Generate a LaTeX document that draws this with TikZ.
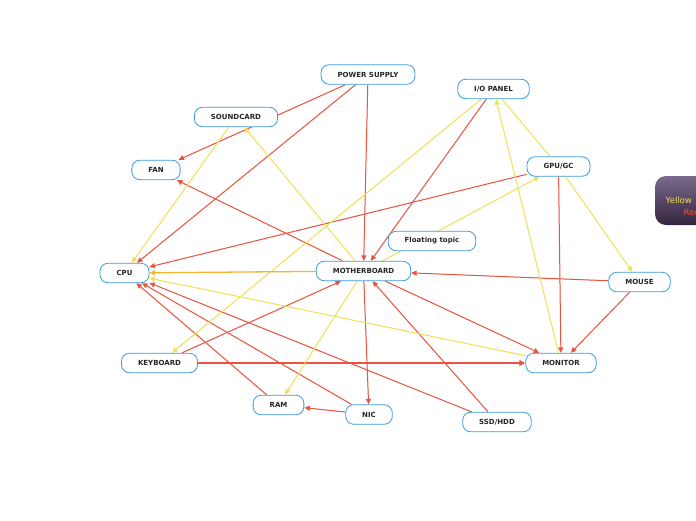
\documentclass[tikz,border=0pt]{standalone}
\usepackage{fontspec}
\setmainfont{DejaVu Sans}
\usetikzlibrary{arrows.meta,backgrounds}
\definecolor{topicblue}{HTML}{3A9BDC}
\definecolor{relred}{HTML}{E9533F}
\definecolor{relyellow}{HTML}{F0E058}
\definecolor{relamber}{HTML}{F2B632}
\definecolor{legendtop}{HTML}{7B6A8C}
\definecolor{legendbottom}{HTML}{33243F}
\tikzset{
  topic/.style={draw=topicblue, line width=0.8pt, fill=white, rounded corners=8pt,
    minimum height=19.5pt, inner xsep=16.5pt, inner ysep=0pt,
    font=\fontsize{7}{8}\selectfont\bfseries, text=black!85},
  rel/.style={line width=1pt, -{Triangle[length=5.5pt,width=5pt]}},
  redrel/.style={rel, draw=relred, fill=relred},
  yellowrel/.style={rel, draw=relyellow, fill=relyellow},
  legendtext/.style={anchor=west, inner sep=0pt, font=\fontsize{8.5}{9}\selectfont}
}
\begin{document}
\begin{tikzpicture}[x=1pt,y=-1pt]
\clip (0,0) rectangle (696,520);

% Draw the topics
\node[topic] (PS)    at (368,74.5) {POWER SUPPLY};
\node[topic] (IO)    at (493.5,89) {I/O PANEL};
\node[topic] (SC)    at (236,117) {SOUNDCARD};
\node[topic] (FAN)   at (156,170) {FAN};
\node[topic] (GPU)   at (558.5,166.5) {GPU/GC};
\node[topic] (FLOAT) at (432,241) {Floating topic};
\node[topic] (CPU)   at (124.5,273) {CPU};
\node[topic] (MB)    at (363.5,271) {MOTHERBOARD};
\node[topic] (MOUSE) at (639.5,282) {MOUSE};
\node[topic] (KB)    at (159.5,363) {KEYBOARD};
\node[topic] (MON)   at (561,363) {MONITOR};
\node[topic] (RAM)   at (278.5,405) {RAM};
\node[topic] (NIC)   at (369,414.5) {NIC};
\node[topic] (SSD)   at (497,422) {SSD/HDD};

% Draw the relationships
\begin{pgfonlayer}{background}% background so the topics cover the lines
  \foreach \from/\to in {PS/FAN, PS/CPU, PS/MB, IO/MB, GPU/CPU, GPU/MON,
      MOUSE/MB, MOUSE/MON, MB/FAN, MB/NIC, MB/MON, KB/MB, RAM/CPU,
      NIC/CPU, NIC/RAM, SSD/CPU, SSD/MB}
    \draw[redrel] (\from) -- (\to);
  \draw[redrel, line width=1.7pt, -{Triangle[length=6pt,width=5.5pt]}] (KB) -- (MON);
  \foreach \from/\to in {SC/CPU, MB/SC, IO/KB, MON/IO, MB/GPU, GPU/MOUSE,
      MB/RAM, MON/CPU}
    \draw[yellowrel] (\from) -- (\to);
  \draw[draw=relyellow, line width=1pt] (GPU) -- (IO);
  \draw[rel, draw=relamber, fill=relamber, line width=1.3pt] (MB) -- (CPU);
\end{pgfonlayer}

% Draw the legend
\shade[top color=legendtop, bottom color=legendbottom, rounded corners=11pt]
  (655,176) rectangle (760,225);
\node[legendtext, text=relyellow] (legendY) at (665.5,200) {Yellow};
\node[legendtext, text=relred]    (legendR) at (683.5,212.5) {Red};

\end{tikzpicture}
\end{document}
